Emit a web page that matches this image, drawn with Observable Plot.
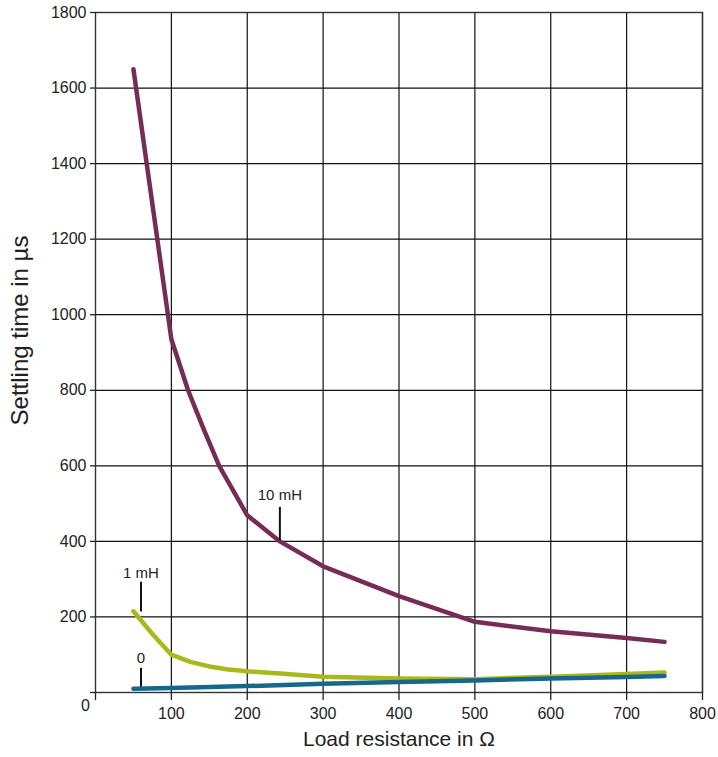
<!DOCTYPE html>
<html>
<head>
<meta charset="utf-8">
<script src="https://cdn.jsdelivr.net/npm/d3@7"></script>
<script src="https://cdn.jsdelivr.net/npm/@observablehq/plot@0.6"></script>
<style>
  html, body { margin: 0; padding: 0; background: #fff; }
  #chart svg { display: block; }
</style>
</head>
<body>
<div id="chart"></div>
<script>
// Load resistance (Ω) and settling time (µs) per inductance
const r10mH = [50, 100, 122, 142, 163, 200, 243, 300, 400, 500, 600, 700, 750];
const t10mH = [1650, 935, 800, 700, 600, 469, 400, 334, 255, 187, 162, 144, 134];

const r1mH = [50, 75, 100, 125, 150, 175, 200, 243, 300, 400, 500, 600, 700, 750];
const t1mH = [215, 155, 100, 81, 69, 61, 56, 50, 42, 37, 35, 42, 49, 53];

const r0 = [50, 100, 200, 300, 400, 500, 600, 700, 750];
const t0 = [10, 12, 17, 23, 28, 32, 37, 41, 44];

const seriesNames = ["10 mH", "1 mH", "0"];
const seriesColors = ["#762c57", "#a9b91c", "#17678a"];

// Annotation labels (text position and pointer line, in data units)
const labelText = ["10 mH", "1 mH", "0"];
const labelX = [243, 60, 60];
const labelY = [522, 316, 91];
const pointerY1 = [402, 213, 14];
const pointerY2 = [490, 292, 64];

const xTicks = [0, 100, 200, 300, 400, 500, 600, 700, 800];
const yTicks = [0, 200, 400, 600, 800, 1000, 1200, 1400, 1600, 1800];
const xTitle = "Load resistance in Ω";
const yTitle = "Settling time in µs";

const toRows = (xs, ys, name) => xs.map((x, i) => ({x, y: ys[i], name}));
const series = [
  toRows(r10mH, t10mH, seriesNames[0]),
  toRows(r1mH, t1mH, seriesNames[1]),
  toRows(r0, t0, seriesNames[2])
];
const labels = labelText.map((t, i) => ({t, x: labelX[i], y: labelY[i], y1: pointerY1[i], y2: pointerY2[i]}));

const chart = Plot.plot({
  width: 718,
  height: 757,
  marginLeft: 95,
  marginRight: 16,
  marginTop: 12,
  marginBottom: 65,
  style: {fontFamily: "'Liberation Sans', Arial, sans-serif", fontSize: "16px", color: "#222", background: "#fff"},
  x: {domain: [0, 800]},
  y: {domain: [0, 1800]},
  marks: [
    Plot.gridX(xTicks.slice(1), {stroke: "#111", strokeOpacity: 1, strokeWidth: 1.2}),
    Plot.gridY(yTicks.slice(1), {stroke: "#111", strokeOpacity: 1, strokeWidth: 1.2}),
    Plot.frame({stroke: "#333", strokeWidth: 1.4}),
    Plot.axisX({ticks: xTicks, tickSize: 8, tickPadding: 7, fontSize: 16, label: null,
      tickFormat: d => d === 0 ? "" : String(d), strokeWidth: 1.3}),
    Plot.axisY({ticks: yTicks, tickSize: 5, tickPadding: 4, fontSize: 16, label: null,
      tickFormat: d => d === 0 ? "" : String(d), strokeWidth: 1.3}),
    Plot.text([0], {x: 0, y: 0, text: d => String(d), dx: -10, dy: 13, fontSize: 16, fill: "#222"}),
    Plot.line(series[0], {x: "x", y: "y", stroke: seriesColors[0], strokeWidth: 4.5, strokeLinejoin: "round"}),
    Plot.line(series[1], {x: "x", y: "y", stroke: seriesColors[1], strokeWidth: 4.5, strokeLinejoin: "round"}),
    Plot.line(series[2], {x: "x", y: "y", stroke: seriesColors[2], strokeWidth: 4.5, strokeLinejoin: "round"}),
    Plot.ruleX(labels, {x: "x", y1: "y1", y2: "y2", stroke: "#111", strokeWidth: 2}),
    Plot.text(labels, {x: "x", y: "y", text: "t", fontSize: 15, fill: "#222"}),
    Plot.text([xTitle], {frameAnchor: "bottom", textAnchor: "middle", dy: 53, fontSize: 21, fill: "#222"}),
    Plot.text([yTitle], {frameAnchor: "left", textAnchor: "middle", rotate: -90, dx: -75, dy: -22, fontSize: 24, fill: "#222"})
  ]
});
document.getElementById("chart").appendChild(chart);
</script>
</body>
</html>
